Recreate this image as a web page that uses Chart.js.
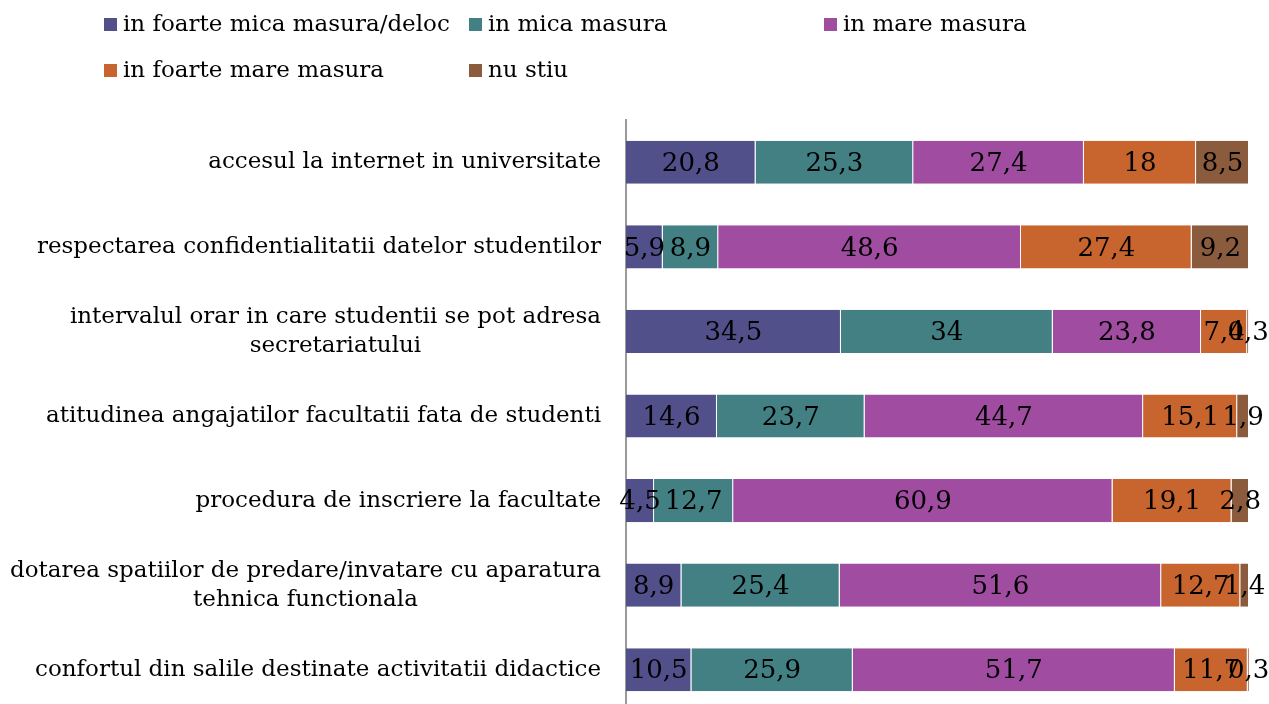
<!DOCTYPE html>
<html>
<head>
<meta charset="utf-8">
<script src="https://cdn.jsdelivr.net/npm/chart.js@4"></script>
<style>
  html, body { margin: 0; padding: 0; background: #fff; overflow: hidden; }
  #wrap { position: relative; width: 1269px; height: 712px; }
  #legend { position: absolute; left: 0; top: 0; width: 1269px; height: 100px;
            font-family: "DejaVu Serif", serif; font-size: 23px; color: #000; }
  .item { position: absolute; white-space: nowrap; }
  .box { display: inline-block; width: 13px; height: 13px; margin-right: 6px; }
</style>
</head>
<body>
<div id="wrap">
  <canvas id="chart" width="1269" height="712"></canvas>
  <div id="legend"></div>
</div>
<script>
// categories (top to bottom)
var categories = [
    'accesul la internet in universitate',
    'respectarea confidentialitatii datelor studentilor',
    ['intervalul orar in care studentii se pot adresa', 'secretariatului'],
    'atitudinea angajatilor facultatii fata de studenti',
    'procedura de inscriere la facultate',
    ['dotarea spatiilor de predare/invatare cu aparatura', 'tehnica functionala'],
    'confortul din salile destinate activitatii didactice'
];

var seriesNames = ['in foarte mica masura/deloc', 'in mica masura', 'in mare masura', 'in foarte mare masura', 'nu stiu'];
var seriesColors = ['#52508A', '#428084', '#A04CA0', '#C8652E', '#8A5B3D'];

var foarteMica = [20.8, 5.9, 34.5, 14.6, 4.5, 8.9, 10.5];
var mica = [25.3, 8.9, 34, 23.7, 12.7, 25.4, 25.9];
var mare = [27.4, 48.6, 23.8, 44.7, 60.9, 51.6, 51.7];
var foarteMare = [18, 27.4, 7.4, 15.1, 19.1, 12.7, 11.7];
var nuStiu = [8.5, 9.2, 0.3, 1.9, 2.8, 1.4, 0.3];

var seriesValues = [foarteMica, mica, mare, foarteMare, nuStiu];

// legend built in html (grid layout like the original)
var legendPos = [[104, 10], [469, 10], [824, 10], [104, 56], [469, 56]];
var legendEl = document.getElementById('legend');
seriesNames.forEach(function (name, i) {
    var d = document.createElement('div');
    d.className = 'item';
    d.style.left = legendPos[i][0] + 'px';
    d.style.top = legendPos[i][1] + 'px';
    d.innerHTML = '<span class="box" style="background:' + seriesColors[i] + '"></span>' + name;
    legendEl.appendChild(d);
});

var serif = '"DejaVu Serif", serif';

// value labels in the middle of each segment
var valueLabels = {
    id: 'valueLabels',
    afterDatasetsDraw: function (chart) {
        var ctx = chart.ctx;
        ctx.save();
        ctx.font = '26px ' + serif;
        ctx.fillStyle = '#000';
        ctx.textAlign = 'center';
        ctx.textBaseline = 'middle';
        chart.data.datasets.forEach(function (ds, di) {
            chart.getDatasetMeta(di).data.forEach(function (bar, i) {
                var x = (bar.x + bar.base) / 2;
                ctx.fillText(String(ds.data[i]).replace('.', ','), x, bar.y + 2);
            });
        });
        ctx.restore();
    }
};

// category labels: block right aligned, lines centered to each other
var catLabels = {
    id: 'catLabels',
    afterDraw: function (chart) {
        var ctx = chart.ctx;
        var yScale = chart.scales.y;
        var right = chart.chartArea.left - 25;
        ctx.save();
        ctx.font = '23px ' + serif;
        ctx.fillStyle = '#000';
        ctx.textBaseline = 'middle';
        ctx.textAlign = 'center';
        categories.forEach(function (c, i) {
            var lines = Array.isArray(c) ? c : [c];
            var w = Math.max.apply(null, lines.map(function (l) { return ctx.measureText(l).width; }));
            var cx = right - w / 2;
            var y = yScale.getPixelForTick(i);
            var lh = 29;
            lines.forEach(function (l, k) {
                ctx.fillText(l, cx, y + (k - (lines.length - 1) / 2) * lh);
            });
        });
        ctx.restore();
    }
};

var ctx = document.getElementById('chart').getContext('2d');
new Chart(ctx, {
    type: 'bar',
    data: {
        labels: categories,
        datasets: seriesValues.map(function (vals, i) {
            return {
                label: seriesNames[i],
                data: vals,
                backgroundColor: seriesColors[i],
                borderColor: 'rgba(255,255,255,0.6)',
                borderWidth: { left: 0, right: 1, top: 0, bottom: 0 },
                borderSkipped: false,
                barPercentage: 0.51,
                categoryPercentage: 1
            };
        })
    },
    options: {
        indexAxis: 'y',
        responsive: false,
        animation: false,
        layout: { padding: { left: 618, right: 20, top: 120, bottom: 0 } },
        scales: {
            x: {
                stacked: true,
                min: 0,
                max: 100,
                display: false
            },
            y: {
                stacked: true,
                ticks: { display: false },
                grid: { display: false },
                border: { display: true, color: '#9a9a9a', width: 2 }
            }
        },
        plugins: {
            legend: { display: false },
            tooltip: { enabled: false }
        }
    },
    plugins: [valueLabels, catLabels]
});
</script>
</body>
</html>
